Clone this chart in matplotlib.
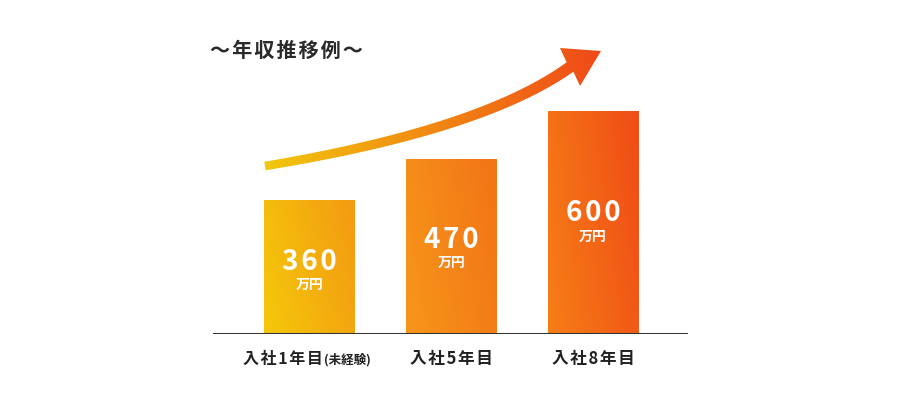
import matplotlib
matplotlib.use("Agg")
import matplotlib.pyplot as plt
import numpy as np
from matplotlib.colors import to_rgb
from matplotlib.patches import Polygon

plt.rcParams['font.family'] = ['Noto Sans CJK JP', 'DejaVu Sans']

# data
categories = ["入社1年目", "入社5年目", "入社8年目"]
category_notes = ["(未経験)", "", ""]
salaries = [360, 470, 600]
unit = "万円"
title = "～年収推移例～"

# per-bar gradient (bottom-left -> top-right)
bar_grads = [("#F5C80A", "#F39A12"), ("#F7961A", "#F27416"), ("#F67E16", "#F04C16")]
arrow_grad = ("#F2C80C", "#F04818")
ink = "#222222"
HAIR = "\u200a"


def grad_img(c0, c1, nx=120, ny=120, wy=0.25):
    u = np.linspace(0, 1, nx)[None, :]
    v = np.linspace(0, 1, ny)[:, None]  # 0 = bottom row (origin lower)
    t = np.clip((1 - wy) * u + wy * v, 0, 1)
    a, b = np.array(to_rgb(c0)), np.array(to_rgb(c1))
    return a[None, None, :] * (1 - t[..., None]) + b[None, None, :] * t[..., None]


W, H = 900, 406
fig = plt.figure(figsize=(W / 100, H / 100), dpi=100)
fig.patch.set_facecolor("white")

# bar axes: baseline at y=334px, x from 213 to 688px
ax = fig.add_axes([213 / W, (H - 335) / H, 475 / W, 335 / H])
ax.set_xlim(-0.68, 2.67)
ax.set_ylim(0, 335 / (223 / 600))
ax.set_autoscale_on(False)
ax.axis("off")

x = np.arange(len(salaries))
bars = ax.bar(x, salaries, width=0.64, facecolor="none", edgecolor="none")
for b, (c0, c1) in zip(bars, bar_grads):
    x0, y0 = b.get_x(), b.get_y()
    im = ax.imshow(grad_img(c0, c1), extent=(x0, x0 + b.get_width(), y0, y0 + b.get_height()),
                   origin="lower", aspect="auto", interpolation="bilinear", zorder=2)
    im.set_clip_path(b)

ax.axhline(0, color="#333333", lw=2.2, zorder=3)

for i, v in enumerate(salaries):
    ax.annotate(HAIR.join(str(v)), xy=(i, v * 0.545), ha="center", va="center", color="white",
                fontsize=20, fontweight="bold", zorder=4)
    ax.annotate(unit, xy=(i, v * 0.545), xytext=(0, -23), textcoords="offset pixels",
                ha="center", va="center", color="white", fontsize=10, fontweight="bold", zorder=4)

for i, (cat, note) in enumerate(zip(categories, category_notes)):
    label = HAIR.join(cat)
    if note:
        ax.annotate(label, xy=(i, 0), xytext=(13, -29), textcoords="offset pixels",
                    ha="right", va="baseline", color=ink, fontsize=11.5, fontweight="bold",
                    annotation_clip=False)
        ax.annotate(note, xy=(i, 0), xytext=(15, -29), textcoords="offset pixels",
                    ha="left", va="baseline", color=ink, fontsize=9, fontweight="bold",
                    annotation_clip=False)
    else:
        ax.annotate(label, xy=(i, 0), xytext=(0, -29), textcoords="offset pixels",
                    ha="center", va="baseline", color=ink, fontsize=12, fontweight="bold",
                    annotation_clip=False)

# overlay axes in pixel coordinates for the decorative arrow
ov = fig.add_axes([0, 0, 1, 1])
ov.set_xlim(0, W)
ov.set_ylim(H, 0)
ov.axis("off")
ov.patch.set_alpha(0)

p0, pc, p2 = np.array([265, 167.0]), np.array([482, 131.0]), np.array([570, 68.0])
t = np.linspace(0, 1, 80)[:, None]
pts = (1 - t) ** 2 * p0 + 2 * (1 - t) * t * pc + t ** 2 * p2
d = 2 * (1 - t) * (pc - p0) + 2 * t * (p2 - pc)
d = d / np.linalg.norm(d, axis=1, keepdims=True)
nrm = np.column_stack([d[:, 1], -d[:, 0]])
half = (4.3 + 1.5 * t)
upper = pts + nrm * half
lower = pts - nrm * half
head = np.array([[560, 49], [601, 52], [580, 87]])
shape = np.vstack([lower, head[[2]], head[[1]], head[[0]], upper[::-1]])
poly = Polygon(shape, closed=True, facecolor="none", edgecolor="none")
ov.add_patch(poly)
aim = ov.imshow(grad_img(*arrow_grad, wy=0.0), extent=(262, 604, 190, 45),
                aspect="auto", interpolation="bilinear")
aim.set_clip_path(poly)

fig.text(210 / W, 1 - 50 / H, HAIR.join(title), ha="left", va="center", color="#2a2a2a",
         fontsize=14.5, fontweight="bold")

fig.savefig("out.png", dpi=100, facecolor="white")
